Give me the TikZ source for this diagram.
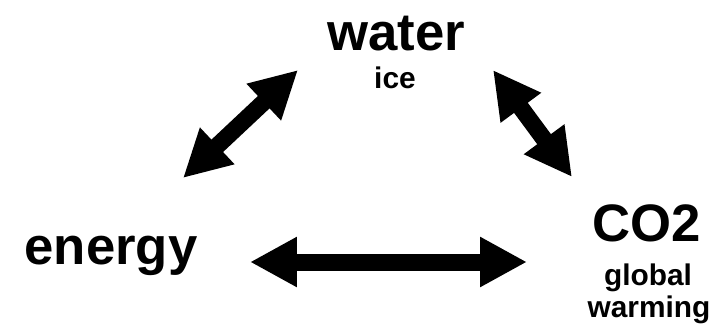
\documentclass[tikz,border=0pt]{standalone}
\usepackage{fontspec}
\setmainfont{Liberation Sans}
\usetikzlibrary{arrows.meta}

\tikzset{
  bigword/.style={font=\bfseries\fontsize{30}{32}\selectfont, anchor=base, inner sep=0pt},
  smallword/.style={font=\bfseries\fontsize{17}{19}\selectfont, anchor=base, inner sep=0pt},
  link/.style={line width=0.34cm, {Triangle[length=0.94cm, width=0.94cm]}-{Triangle[length=0.94cm, width=0.94cm]}}
}

\begin{document}
\begin{tikzpicture}[x=0.02cm, y=0.02cm]
  \useasboundingbox (0,0) rectangle (724,329);

  % words
  \node[bigword] (water) at (396,279) {water};
  \node[smallword] (ice) at (395,241) {ice};
  \node[bigword] (energy) at (111,65) {energy};
  \node[bigword] (co2) at (647,88) {CO2};
  \node[smallword] (global) at (648,44) {global};
  \node[smallword] (warming) at (649,12) {warming};

  % arrow ends
  \coordinate (wl) at (298,259);
  \coordinate (el) at (183,151);
  \coordinate (wr) at (493,259);
  \coordinate (cr) at (572,152);
  \coordinate (eb) at (250,67);
  \coordinate (cb) at (527,67);

  \draw[link] (el) -- (wl);
  \draw[link] (wr) -- (cr);
  \draw[link] (eb) -- (cb);
\end{tikzpicture}
\end{document}
